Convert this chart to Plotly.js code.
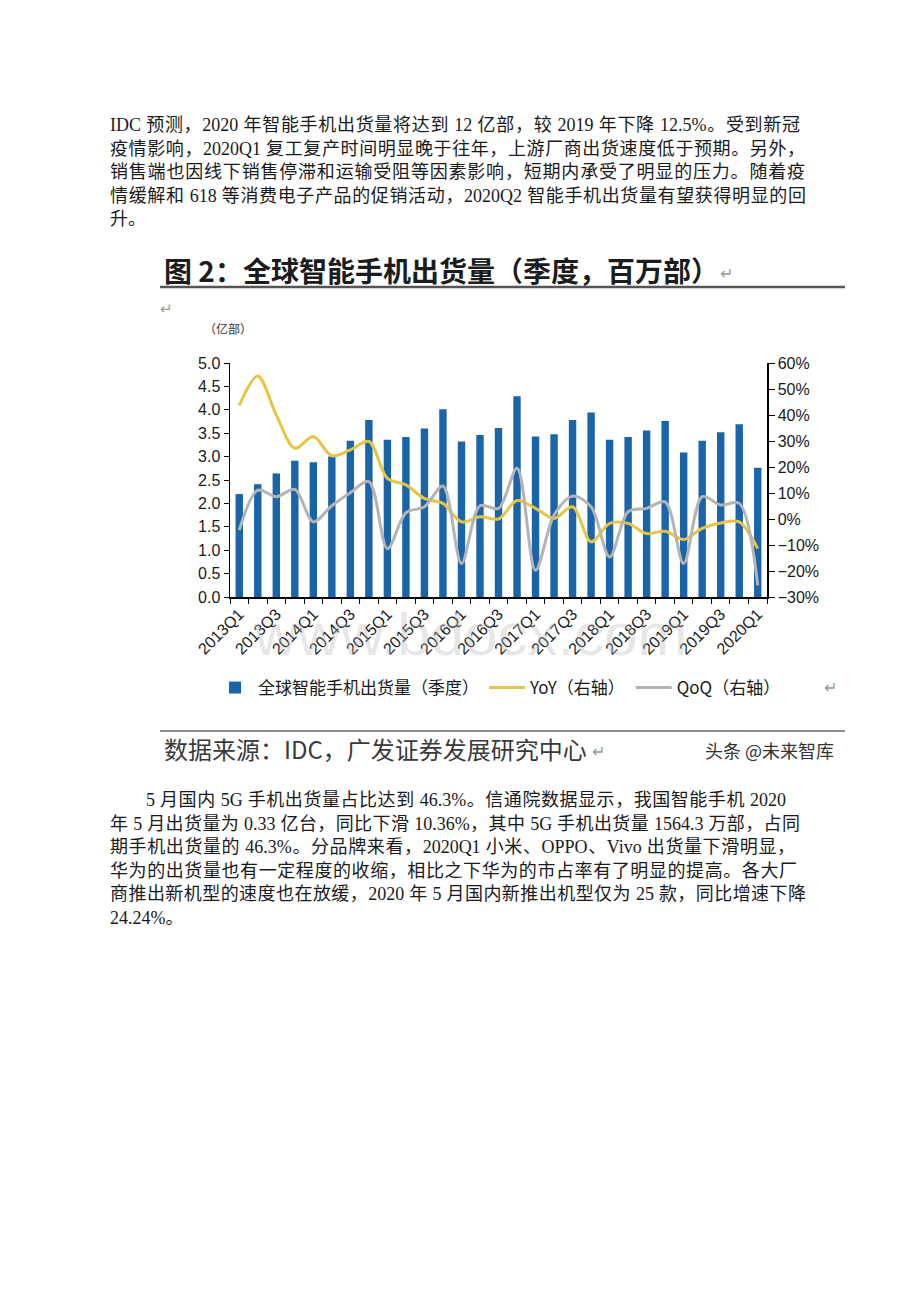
<!DOCTYPE html>
<html>
<head>
<meta charset="utf-8">
<script src="https://cdn.plot.ly/plotly-3.0.1.min.js"></script>
<style>
  body { margin: 0; background: #fff; }
  #page { position: relative; width: 920px; height: 1302px; overflow: hidden; }
  #chart { position: absolute; left: 0; top: 0; width: 920px; height: 1302px; }
  .para { position: absolute; font-family: "Liberation Serif", "Noto Sans CJK SC", serif;
          font-size: 18px; line-height: 23.5px; color: #1a1a1a; z-index: 2; }
  .para div { text-align: justify; text-align-last: justify; }
  .para div.last { text-align-last: left; }
</style>
</head>
<body>
<div id="page">
  <div id="chart"></div>

  <div class="para" style="left:110px; top:114px;">
    <div style="width:690px">IDC 预测，2020 年智能手机出货量将达到 12 亿部，较 2019 年下降 12.5%。受到新冠</div>
    <div style="width:695px">疫情影响，2020Q1 复工复产时间明显晚于往年，上游厂商出货速度低于预期。另外，</div>
    <div style="width:695px">销售端也因线下销售停滞和运输受阻等因素影响，短期内承受了明显的压力。随着疫</div>
    <div style="width:696px">情缓解和 618 等消费电子产品的促销活动，2020Q2 智能手机出货量有望获得明显的回</div>
    <div class="last">升。</div>
  </div>

  <div class="para" style="left:110px; top:789px;">
    <div style="width:640px; margin-left:36px">5 月国内 5G 手机出货量占比达到 46.3%。信通院数据显示，我国智能手机 2020</div>
    <div style="width:690px">年 5 月出货量为 0.33 亿台，同比下滑 10.36%，其中 5G 手机出货量 1564.3 万部，占同</div>
    <div style="width:685px">期手机出货量的 46.3%。分品牌来看，2020Q1 小米、OPPO、Vivo 出货量下滑明显，</div>
    <div style="width:687px">华为的出货量也有一定程度的收缩，相比之下华为的市占率有了明显的提高。各大厂</div>
    <div style="width:696px">商推出新机型的速度也在放缓，2020 年 5 月国内新推出机型仅为 25 款，同比增速下降</div>
    <div class="last">24.24%。</div>
  </div>
</div>

<script>
document.addEventListener("DOMContentLoaded", function() {
  // 季度
  const quarters = [
    "2013Q1", "2013Q2", "2013Q3", "2013Q4",
    "2014Q1", "2014Q2", "2014Q3", "2014Q4",
    "2015Q1", "2015Q2", "2015Q3", "2015Q4",
    "2016Q1", "2016Q2", "2016Q3", "2016Q4",
    "2017Q1", "2017Q2", "2017Q3", "2017Q4",
    "2018Q1", "2018Q2", "2018Q3", "2018Q4",
    "2019Q1", "2019Q2", "2019Q3", "2019Q4",
    "2020Q1"
  ];
  // 只显示隔一个季度的标签
  const tickLabels = [
    "2013Q1", "", "2013Q3", "",
    "2014Q1", "", "2014Q3", "",
    "2015Q1", "", "2015Q3", "",
    "2016Q1", "", "2016Q3", "",
    "2017Q1", "", "2017Q3", "",
    "2018Q1", "", "2018Q3", "",
    "2019Q1", "", "2019Q3", "",
    "2020Q1"
  ];
  // 全球智能手机出货量（亿部）
  const shipments = [
    2.20, 2.41, 2.64, 2.91,
    2.88, 3.00, 3.34, 3.78,
    3.36, 3.42, 3.60, 4.01,
    3.32, 3.46, 3.61, 4.29,
    3.43, 3.48, 3.78, 3.94,
    3.36, 3.42, 3.56, 3.76,
    3.09, 3.34, 3.52, 3.69,
    2.76
  ];
  // 同比 (%)
  const yoy = [
    43.7, 55.0, 40.0, 27.2,
    31.7, 24.3, 26.6, 29.8,
    15.6, 13.1, 7.9, 6.0,
    -1.1, 0.9, 0.0, 7.1,
    4.1, 0.2, 4.7, -8.8,
    -1.7, -1.7, -5.6, -4.7,
    -7.9, -3.6, -1.5, -1.1,
    -11.4
  ];
  // 环比 (%)
  const qoq = [
    -4.3, 11.1, 8.6, 11.4,
    -1.1, 5.1, 10.1, 14.4,
    -11.4, 2.4, 4.7, 12.7,
    -17.1, 5.1, 4.1, 19.5,
    -19.7, 1.5, 8.8, 4.7,
    -14.6, 2.8, 4.1, 6.6,
    -17.1, 8.6, 5.4, 6.0,
    -25.5
  ];

  const BLUE = "#1a64aa";
  const YELLOW = "#e8c444";
  const GRAY = "#b4b4b4";
  const TICK_FONT = { family: "Liberation Sans, Arial, sans-serif", size: 16, color: "#1a1a1a" };
  const CJK = "Noto Sans CJK SC, sans-serif";

  // 页面像素 -> paper 坐标
  const W = 920, H = 1302;
  const M = { l: 230, r: 153, t: 363, b: 705, pad: 0 };
  const PW = W - M.l - M.r, PH = H - M.t - M.b;
  const px = x => (x - M.l) / PW;
  const py = y => (H - M.b - y) / PH;

  const traceBar = {
    type: "bar",
    x: quarters,
    y: shipments,
    name: "全球智能手机出货量（季度）",
    width: 0.4,
    marker: { color: BLUE }
  };

  const traceYoy = {
    type: "scatter",
    mode: "lines",
    x: quarters,
    y: yoy,
    yaxis: "y2",
    name: "YoY（右轴）",
    line: { color: YELLOW, width: 3, shape: "spline", smoothing: 0.9 }
  };

  const traceQoq = {
    type: "scatter",
    mode: "lines",
    x: quarters,
    y: qoq,
    yaxis: "y2",
    name: "QoQ（右轴）",
    line: { color: GRAY, width: 3, shape: "spline", smoothing: 0.9 }
  };

  const hline = (y, w, c) => ({
    type: "line", xref: "paper", yref: "paper",
    x0: px(160), x1: px(845), y0: py(y), y1: py(y),
    line: { color: c, width: w }
  });

  const note = (text, x, y, size, color, anchor, extra) => Object.assign({
    text: text, xref: "paper", yref: "paper", x: px(x), y: py(y),
    xanchor: anchor || "left", yanchor: "middle", showarrow: false,
    font: { family: CJK, size: size, color: color }
  }, extra || {});

  const layout = {
    width: W,
    height: H,
    margin: M,
    paper_bgcolor: "#ffffff",
    plot_bgcolor: "rgba(0,0,0,0)",
    font: TICK_FONT,
    showlegend: true,
    legend: {
      orientation: "h",
      x: px(212), xanchor: "left",
      y: py(688), yanchor: "middle",
      itemwidth: 36,
      font: { family: CJK, size: 17, color: "#1a1a1a" },
      bgcolor: "rgba(0,0,0,0)",
      traceorder: "normal"
    },
    xaxis: {
      type: "category",
      range: [-0.5, quarters.length - 0.5],
      tickmode: "array",
      tickvals: quarters,
      ticktext: tickLabels,
      tickangle: -45,
      tickson: "boundaries",
      ticks: "outside",
      ticklen: 5,
      tickcolor: "#000",
      showline: true,
      linecolor: "#000",
      linewidth: 1.5,
      showgrid: false,
      tickfont: TICK_FONT
    },
    yaxis: {
      range: [0, 5],
      dtick: 0.5,
      tickformat: ".1f",
      ticks: "outside",
      ticklen: 5,
      tickcolor: "#000",
      showline: true,
      linecolor: "#000",
      linewidth: 1.5,
      showgrid: false,
      zeroline: false,
      tickfont: TICK_FONT
    },
    yaxis2: {
      overlaying: "y",
      side: "right",
      range: [-30, 60],
      dtick: 10,
      ticksuffix: "%",
      ticks: "outside",
      ticklen: 6,
      tickcolor: "#000",
      showline: true,
      linecolor: "#000",
      linewidth: 1.5,
      showgrid: false,
      zeroline: false,
      tickfont: TICK_FONT
    },
    shapes: [
      hline(287, 2.5, "#555555"),
      hline(731, 1.5, "#666666")
    ],
    annotations: [
      note("图 2：全球智能手机出货量（季度，百万部）", 162, 270, 28, "#1c1c1c", "left",
           { font: { family: CJK, size: 28, color: "#1c1c1c", weight: 700 } }),
      note("↵", 718, 272, 16, "#9a9a9a"),
      note("↵", 158, 307, 15, "#9a9a9a"),
      note("（亿部）", 202, 328, 12, "#333333"),
      note("↵", 822, 686, 16, "#9a9a9a"),
      note("数据来源：IDC，广发证券发展研究中心", 162, 748, 24, "#3a3a3a"),
      note("↵", 590, 750, 16, "#9a9a9a"),
      note("头条 @未来智库", 836, 750, 18, "#333333", "right"),
      note("www.bdocx.com", 470, 634, 60, "rgba(185,185,185,0.35)", "center",
           { font: { family: "Liberation Sans, Arial, sans-serif", size: 60, color: "rgba(185,185,185,0.35)" } })
    ]
  };

  Plotly.newPlot("chart", [traceBar, traceYoy, traceQoq], layout, { staticPlot: true, displayModeBar: false });
});
</script>
</body>
</html>
